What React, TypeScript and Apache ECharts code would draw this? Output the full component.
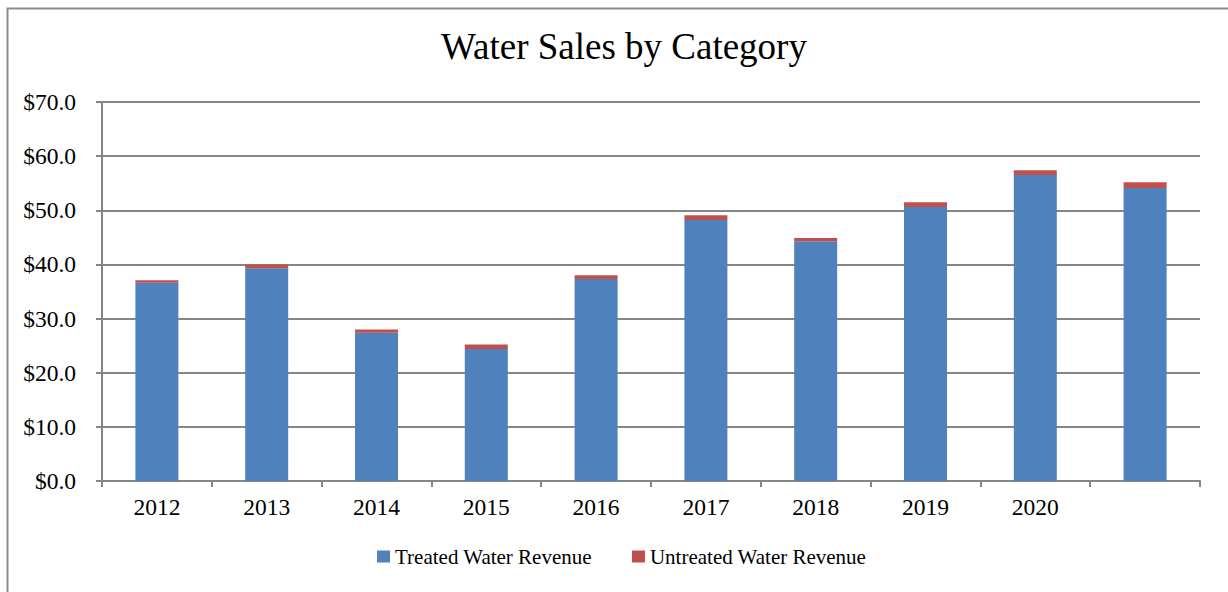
import React, { useEffect, useRef } from "react";
import * as echarts from "echarts";

const categories = ["2012", "2013", "2014", "2015", "2016", "2017", "2018", "2019", "2020", ""];
const treatedRevenue = [36.6, 39.3, 27.4, 24.4, 37.3, 48.2, 44.3, 50.6, 56.5, 54.1];
const untreatedRevenue = [0.5, 0.7, 0.6, 0.8, 0.7, 0.9, 0.6, 0.9, 0.9, 1.1];
const seriesNames = ["Treated Water Revenue", "Untreated Water Revenue"];
const titleText = "Water Sales by Category";

const FONT = '"Liberation Serif", "Times New Roman", serif';
const AXIS = "#868686";

export default function App() {
  const ref = useRef<HTMLDivElement>(null);
  useEffect(() => {
    if (!ref.current) return;
    const chart = echarts.init(ref.current, null, { renderer: "svg" });
    chart.setOption({
      animation: false,
      backgroundColor: "#ffffff",
      title: {
        text: titleText,
        left: 619,
        top: 23,
        textAlign: "center",
        textStyle: { fontFamily: FONT, fontSize: 37, fontWeight: "normal", color: "#000" },
      },
      graphic: [
        {
          type: "rect",
          left: 5,
          top: 6,
          shape: { width: 1240, height: 600 },
          style: { fill: "none", stroke: "#8c8c8c", lineWidth: 2 },
          silent: true,
        },
      ],
      legend: {
        top: 541,
        left: 372,
        itemWidth: 13,
        itemHeight: 12,
        itemGap: 40,
        icon: "rect",
        textStyle: { fontFamily: FONT, fontSize: 21, color: "#000" },
        data: seriesNames,
      },
      grid: { left: 102, right: 28, top: 102, bottom: 111, containLabel: false },
      xAxis: {
        type: "category",
        data: categories,
        axisLine: { lineStyle: { color: AXIS, width: 2 } },
        axisTick: { show: true, length: 6, lineStyle: { color: AXIS, width: 2 } },
        axisLabel: { fontFamily: FONT, fontSize: 23.5, color: "#000", margin: 14 },
      },
      yAxis: {
        type: "value",
        min: 0,
        max: 70,
        interval: 10,
        axisLine: { show: true, lineStyle: { color: AXIS, width: 2 } },
        axisTick: { show: true, length: 6, lineStyle: { color: AXIS, width: 2 } },
        splitLine: { lineStyle: { color: AXIS, width: 2 } },
        axisLabel: {
          fontFamily: FONT,
          fontSize: 23.5,
          color: "#000",
          margin: 26,
          formatter: (v: number) => "$" + v.toFixed(1),
        },
      },
      series: [
        {
          name: seriesNames[0],
          type: "bar",
          stack: "total",
          data: treatedRevenue,
          barWidth: 43,
          itemStyle: { color: "#4F81BD" },
        },
        {
          name: seriesNames[1],
          type: "bar",
          stack: "total",
          data: untreatedRevenue,
          barWidth: 43,
          itemStyle: { color: "#C0504D" },
        },
      ],
    });
    return () => chart.dispose();
  }, []);
  return (
    <div
      ref={ref}
      style={{ position: "fixed", left: 0, top: 0, width: 1228, height: 592 }}
    />
  );
}
